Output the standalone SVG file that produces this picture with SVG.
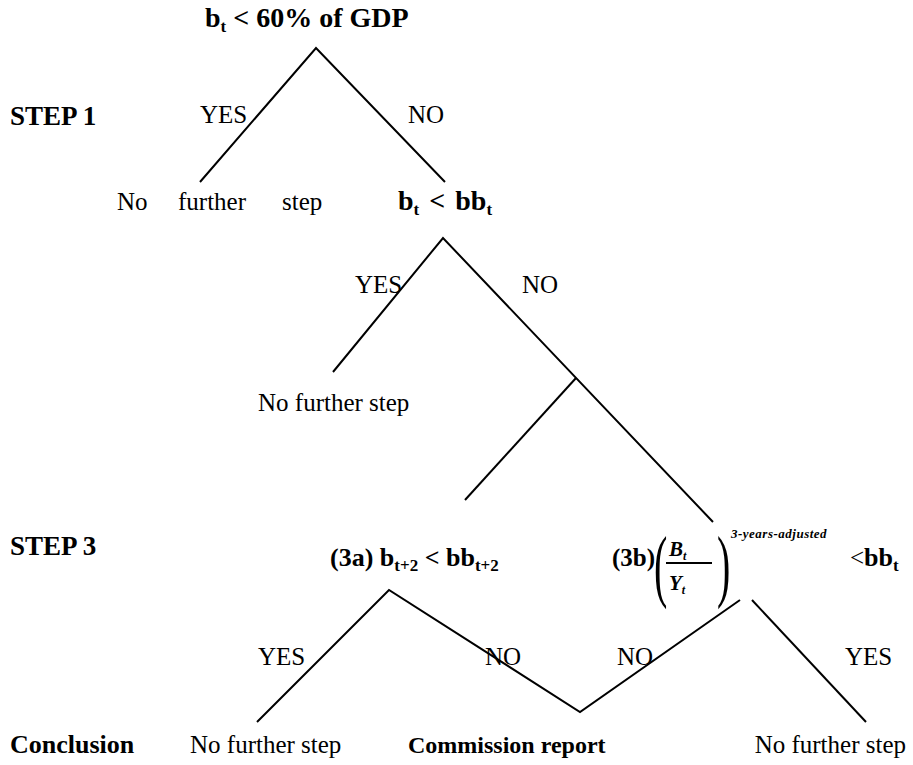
<svg xmlns="http://www.w3.org/2000/svg" width="913" height="765" viewBox="0 0 913 765">
<style>
text{font-family:"Liberation Serif","Times New Roman",serif;fill:#000;font-size:25px}
.b{font-weight:bold;font-size:27px}
.sub{font-size:17px}
.ln{stroke:#000;stroke-width:2;fill:none}
</style>
<rect width="913" height="765" fill="#fff"/>
<g id="connectors">
<polyline class="ln" points="200,182 316,48 445,182"/>
<polyline class="ln" points="333,372 443,238 713,522"/>
<line class="ln" x1="576" y1="378" x2="465" y2="500"/>
<polyline class="ln" points="257,722 389,590 580,712 740,600"/>
<line class="ln" x1="752" y1="600" x2="866" y2="722"/>
</g>
<g id="labels">
<text x="10" y="125" class="b">STEP 1</text>
<text x="10" y="555" class="b">STEP 3</text>
<text x="10" y="753" class="b" style="font-size:26px">Conclusion</text>
<text x="200" y="123">YES</text>
<text x="408" y="123">NO</text>
<text x="355" y="293">YES</text>
<text x="522" y="293">NO</text>
<text x="258" y="665">YES</text>
<text x="485" y="665">NO</text>
<text x="617" y="665">NO</text>
<text x="845" y="665">YES</text>
</g>
<g id="n-root"><text x="205" y="27" class="b" style="font-size:28px">b<tspan class="sub" dy="5">t</tspan><tspan dy="-5"> &lt; 60% of GDP</tspan></text></g>
<g id="n-nofurther1">
<text x="117" y="210">No</text>
<text x="178" y="210">further</text>
<text x="282" y="210">step</text>
</g>
<g id="n-bb"><text x="398" y="210" class="b" style="font-size:28px">b<tspan class="sub" dy="5">t</tspan><tspan dy="-5" dx="3"> &lt; </tspan><tspan dx="3">bb</tspan><tspan class="sub" dy="5">t</tspan></text></g>
<g id="n-nofurther2"><text x="258" y="411">No further step</text></g>
<g id="n-3a"><text x="330" y="566" class="b" style="font-size:26px">(3a) b<tspan class="sub" dy="5">t+2</tspan><tspan dy="-5"> &lt; bb</tspan><tspan class="sub" dy="5">t+2</tspan></text></g>
<g id="n-3b">
<text x="612" y="566" class="b" style="font-size:25px">(3b)</text>
<text transform="translate(654,592) scale(0.5,1)" style="font-size:80px">(</text>
<text transform="translate(717,592) scale(0.5,1)" style="font-size:80px">)</text>
<text x="669" y="556" class="b" style="font-style:italic;font-size:21px">B<tspan dy="4" style="font-size:12px">t</tspan></text>
<line x1="666" y1="563" x2="712" y2="563" stroke="#000" stroke-width="2"/>
<text x="669" y="590" class="b" style="font-style:italic;font-size:21px">Y<tspan dy="4" style="font-size:12px">t</tspan></text>
<text x="731" y="538" class="b" style="font-style:italic;font-size:13px;letter-spacing:0.5px">3-years-adjusted</text>
<text x="850" y="566">&lt;<tspan class="b" style="font-size:26px">bb</tspan><tspan class="b sub" dy="5">t</tspan></text>
</g>
<g id="n-commission"><text x="408" y="753" class="b" style="font-size:24px">Commission report</text></g>
<g id="n-nofurther3"><text x="190" y="753">No further step</text></g>
<g id="n-nofurther4"><text x="906" y="753" text-anchor="end">No further step</text></g>
</svg>
